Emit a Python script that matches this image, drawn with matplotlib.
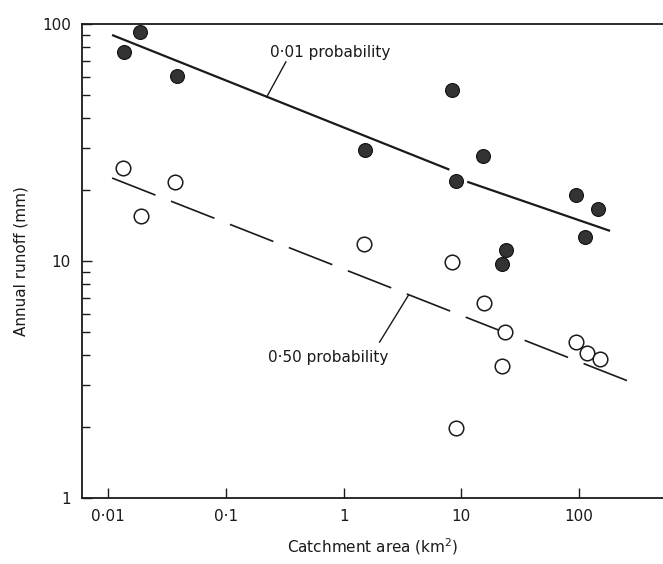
"""
Annual runoff vs catchment area, log-log, with 0.01 and 0.50 probability lines.
"""

import matplotlib.pyplot as plt
from matplotlib.ticker import FixedLocator, LogLocator, NullFormatter, NullLocator

# — filled circles (0.01 probability) —
area_01 = [0.0137, 0.0186, 0.0385, 1.51, 8.39, 9.08, 15.3, 22.2, 24.0, 94.4, 112, 145]
runoff_01 = [76.2, 92.5, 60.3, 29.4, 52.7, 21.7, 27.7, 9.7, 11.1, 19.0, 12.6, 16.6]

# — open circles (0.50 probability) —
area_50 = [0.0134, 0.019, 0.037, 1.48, 8.39, 9.08, 15.7, 22.2, 23.6, 94.4, 117, 151]
runoff_50 = [24.7, 15.5, 21.5, 11.8, 9.9, 1.97, 6.65, 3.6, 5.0, 4.55, 4.09, 3.86]

# — fitted lines (drawn in two pieces where a point sits on the line) —
line01_a_x = [0.0108, 7.9]
line01_a_y = [89.9, 24.3]
line01_b_x = [11.2, 183]
line01_b_y = [21.6, 13.4]

line50_x = [0.0108, 276]
line50_y = [22.4, 3.08]

xticks = [0.01, 0.1, 1, 10, 100]
xtick_labels = ["0·01", "0·1", "1", "10", "100"]
yticks = [1, 10, 100]
ytick_labels = ["1", "10", "100"]

FONT = "DejaVu Sans"
INK = "#1a1a1a"


def main():
    plt.rcParams["font.family"] = FONT
    fig = plt.figure(figsize=(6.63, 5.64), dpi=100)
    ax = fig.add_axes([0.1237, 0.117, 0.8763, 0.8404])

    ax.set_xscale("log")
    ax.set_yscale("log")
    ax.set_xlim(0.006, 515)
    ax.set_ylim(1, 100)

    ax.plot(line01_a_x, line01_a_y, color=INK, lw=1.6, solid_capstyle="butt")
    ax.plot(line01_b_x, line01_b_y, color=INK, lw=1.6, solid_capstyle="butt")
    ax.plot(line50_x, line50_y, color=INK, lw=1.2, dashes=(28, 10))

    ax.plot(area_01, runoff_01, linestyle="none", marker="o", ms=10,
            mfc="#333333", mec="#111111", mew=0.8)
    ax.plot(area_50, runoff_50, linestyle="none", marker="o", ms=10.5,
            mfc="white", mec=INK, mew=1.1)

    # — labels with leader lines —
    ax.plot([0.222, 0.323], [49.2, 69.2], color=INK, lw=1.0)
    ax.text(0.236, 76.2, "0·01 probability", fontsize=11, va="center", ha="left", color=INK)
    ax.plot([3.56, 2.02], [7.19, 4.55], color=INK, lw=1.0)
    ax.text(0.227, 3.9, "0·50 probability", fontsize=11, va="center", ha="left", color=INK)

    # — axes styling —
    ax.spines["right"].set_visible(False)
    for s in ("left", "bottom", "top"):
        ax.spines[s].set_linewidth(1.3)
        ax.spines[s].set_color(INK)

    ax.xaxis.set_major_locator(FixedLocator(xticks))
    ax.set_xticklabels(xtick_labels)
    ax.xaxis.set_minor_locator(NullLocator())
    ax.yaxis.set_major_locator(FixedLocator(yticks))
    ax.set_yticklabels(ytick_labels)
    ax.yaxis.set_minor_locator(LogLocator(base=10, subs=range(2, 10)))
    ax.yaxis.set_minor_formatter(NullFormatter())

    ax.tick_params(axis="both", which="major", direction="in", length=7, width=1.0,
                   labelsize=11, colors=INK, pad=8)
    ax.tick_params(axis="y", which="minor", direction="in", length=6, width=1.0, colors=INK)
    ax.tick_params(axis="x", which="both", top=False)
    ax.tick_params(axis="y", which="both", right=False)

    ax.set_xlabel("Catchment area (km$^2$)", fontsize=11, color=INK, labelpad=9)
    ax.set_ylabel("Annual runoff (mm)", fontsize=11, color=INK, labelpad=10)

    fig.savefig("out.png", dpi=100)
    plt.close(fig)


if __name__ == "__main__":
    main()
